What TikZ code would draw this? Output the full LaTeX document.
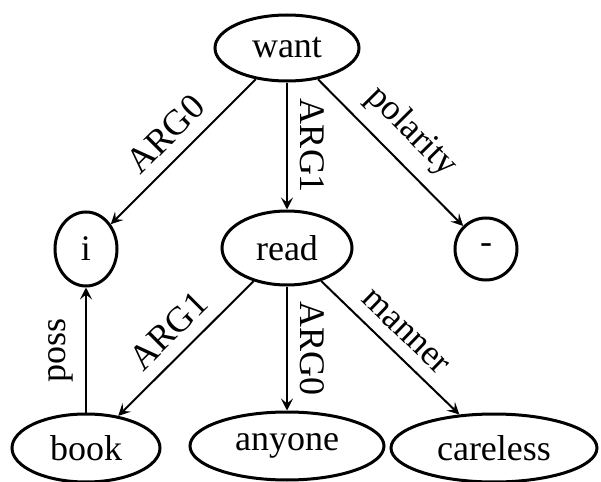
\documentclass[tikz,border=0pt]{standalone}
\usepackage{fontspec}
\setmainfont{Liberation Serif}
\usetikzlibrary{shapes.geometric,arrows.meta}

\begin{document}
\begin{tikzpicture}[x=0.5pt,y=-0.5pt,
	amr/.style={ellipse,draw,line width=1.5pt,inner sep=0pt,font=\fontsize{18}{20}\selectfont},
	edge/.style={line width=1pt,-{Stealth[length=6pt,width=6pt,inset=2.5pt]}},
	lbl/.style={midway,sloped,above,inner sep=6pt,font=\fontsize{18}{20}\selectfont}]
\useasboundingbox (0,0) rectangle (601,482);
\node[amr,minimum width=72pt,minimum height=33pt] at (287,48) (want) {want};
\node[amr,minimum width=31pt,minimum height=37pt] at (86,249) (i) {i};
\node[amr,minimum width=65pt,minimum height=37pt] at (287,248) (read) {read};
\node[amr,minimum width=31pt,minimum height=31pt] at (486,249) (neg) {-};
\node[amr,minimum width=74pt,minimum height=34pt] at (86,448) (book) {book};
\node[amr,minimum width=97pt,minimum height=34pt] at (287,446) (anyone) {anyone};
\node[amr,minimum width=103pt,minimum height=34pt] at (494,448) (careless) {careless};
\foreach \a/\b/\l in {want/i/ARG0,want/read/ARG1,want/neg/polarity,read/book/ARG1,read/anyone/ARG0,read/careless/manner,book/i/poss}
{
	\draw[edge] (\a) -- node[lbl] {\l} (\b);
}
\end{tikzpicture}
\end{document}
